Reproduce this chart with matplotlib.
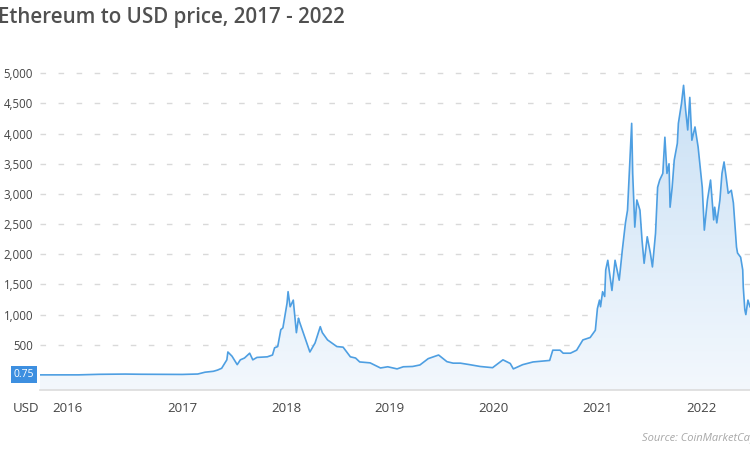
import numpy as np
import matplotlib
matplotlib.use("Agg")
import matplotlib.pyplot as plt
from matplotlib.colors import LinearSegmentedColormap
from matplotlib.patches import Polygon
import matplotlib.transforms as mtransforms

plt.rcParams['font.family'] = ['Open Sans', 'DejaVu Sans']

# ---- data (fractional year, USD price) ----
years = [2015.63, 2016.0, 2016.2, 2016.45, 2016.6, 2016.9, 2017.0, 2017.15,
         2017.22, 2017.30, 2017.34, 2017.38, 2017.43, 2017.44, 2017.48, 2017.53,
         2017.56, 2017.60, 2017.65, 2017.68, 2017.72, 2017.82, 2017.87, 2017.89,
         2017.92, 2017.95, 2017.97, 2018.01, 2018.02, 2018.04, 2018.07, 2018.10,
         2018.12, 2018.13, 2018.18, 2018.23, 2018.28, 2018.33, 2018.35, 2018.40,
         2018.49, 2018.55, 2018.62, 2018.67, 2018.71, 2018.81, 2018.91, 2018.98,
         2019.07, 2019.13, 2019.22, 2019.29, 2019.37, 2019.47, 2019.55, 2019.61,
         2019.68, 2019.77, 2019.87, 2019.99, 2020.09, 2020.16, 2020.19, 2020.28,
         2020.38, 2020.48, 2020.54, 2020.57, 2020.64, 2020.67, 2020.74, 2020.80,
         2020.86, 2020.93, 2020.98, 2021.00, 2021.02, 2021.03, 2021.05, 2021.07,
         2021.08, 2021.10, 2021.14, 2021.17, 2021.21, 2021.24, 2021.27, 2021.29,
         2021.31, 2021.33, 2021.34, 2021.36, 2021.38, 2021.41, 2021.43, 2021.45,
         2021.48, 2021.51, 2021.53, 2021.56, 2021.58, 2021.60, 2021.63, 2021.65,
         2021.67, 2021.69, 2021.70, 2021.72, 2021.74, 2021.77, 2021.78, 2021.81,
         2021.83, 2021.85, 2021.87, 2021.89, 2021.91, 2021.94, 2021.97, 2022.01,
         2022.03, 2022.06, 2022.09, 2022.12, 2022.13, 2022.15, 2022.18, 2022.20,
         2022.22, 2022.24, 2022.26, 2022.29, 2022.31, 2022.34, 2022.35, 2022.38,
         2022.40, 2022.405, 2022.42, 2022.43, 2022.45, 2022.47]
prices = [0.75, 1, 10, 14, 11, 8, 8, 15,
          45, 60, 80, 110, 250, 380, 310, 170,
          250, 280, 360, 250, 290, 300, 330, 450,
          470, 750, 780, 1190, 1380, 1130, 1240, 700,
          940, 880, 630, 380, 530, 800, 700, 580,
          470, 460, 300, 280, 215, 200, 115, 135,
          100, 135, 140, 165, 270, 330, 220, 195,
          195, 170, 140, 120, 250, 190, 100, 170,
          215, 230, 240, 410, 410, 360, 360, 410,
          580, 620, 740, 1100, 1240, 1130, 1380, 1300,
          1740, 1900, 1400, 1900, 1570, 2070, 2520, 2730,
          3450, 4170, 3340, 2450, 2900, 2730, 2230, 1850,
          2290, 2020, 1790, 2350, 3110, 3230, 3340, 3940,
          3340, 3500, 2780, 3110, 3560, 3840, 4170, 4500,
          4800, 4390, 4060, 4600, 3890, 4110, 3780, 3110,
          2400, 2900, 3230, 2570, 2780, 2520, 2900, 3340,
          3530, 3280, 3010, 3060, 2850, 2120, 2020, 1950,
          1740, 1460, 1080, 1000, 1240, 1130]
tick_years = [2015.89, 2017, 2018, 2019, 2020, 2021, 2022]
tick_labels = ["2016", "2017", "2018", "2019", "2020", "2021", "2022"]
y_ticks = [500, 1000, 1500, 2000, 2500, 3000, 3500, 4000, 4500, 5000]
start_value = 0.75

title = "Ethereum to USD price, 2017 - 2022"
source = "Source: CoinMarketCap"

LINE = "#4e9fe2"
TXT = "#444444"

fig = plt.figure(figsize=(7.5, 4.5), dpi=100)
ax = fig.add_axes([40/750, 60/450, 710/750, 330/450])
ymin, ymax = -250, 5220
xmin, xmax = 2015.63, 2022.47
ax.set_xlim(xmin, xmax)
ax.set_ylim(ymin, ymax)

# gradient fill under line
xs = np.array(years)
ys = np.array(prices)
verts = np.vstack([np.column_stack([xs, ys]), [[xs[-1], ymin], [xs[0], ymin]]])
poly = Polygon(verts, closed=True, facecolor='none', edgecolor='none')
ax.add_patch(poly)
cmap = LinearSegmentedColormap.from_list("g", ["#f3f8fd", "#c9e0f5"])
grad = np.linspace(0, 1, 256).reshape(-1, 1)
im = ax.imshow(grad, cmap=cmap, aspect='auto', origin='lower',
               extent=[xmin, xmax, ymin, 4900], zorder=1)
im.set_clip_path(poly)

ax.plot(xs, ys, color=LINE, lw=1.2, zorder=3)

# grid
for v in y_ticks:
    ax.axhline(v, color="#d9d9d9", lw=1.0, dashes=(4, 9), zorder=0.5)
ax.axhline(0, color="#e2e2e2", lw=1.0, dashes=(4, 9), zorder=0.5)

for s in ["top", "right", "left"]:
    ax.spines[s].set_visible(False)
ax.spines["bottom"].set_color("#dcdcdc")
ax.spines["bottom"].set_linewidth(1.2)

ax.set_yticks(y_ticks)
ax.set_yticklabels([f"{v:,}" for v in y_ticks])
ax.tick_params(axis='y', length=0, pad=5, labelsize=8.3, labelcolor=TXT)
ax.set_xticks(tick_years)
ax.set_xticklabels(tick_labels)
ax.tick_params(axis='x', length=0, pad=9, labelsize=9.5, labelcolor=TXT)

# start value box
trans = mtransforms.blended_transform_factory(ax.transAxes, ax.transData)
ax.text(-0.008, start_value, f"{start_value}", transform=trans, ha='right', va='center',
        fontsize=7.5, color='white',
        bbox=dict(boxstyle='square,pad=0.3', facecolor='#3d8fe0', edgecolor='none'),
        zorder=5, clip_on=False)

fig.text(26/750, 1 - 408/450, "USD", ha='center', va='center', fontsize=9.5, color=TXT)
fig.text(-0.002, 1 - 18/450, title, ha='left', va='center', fontsize=14.8,
         fontweight='semibold', color="#505050")
fig.text(642/750, 1 - 438/450, source, ha='left', va='center', fontsize=8,
         style='italic', color="#a8a8a8")

fig.savefig("out.png", dpi=100)
